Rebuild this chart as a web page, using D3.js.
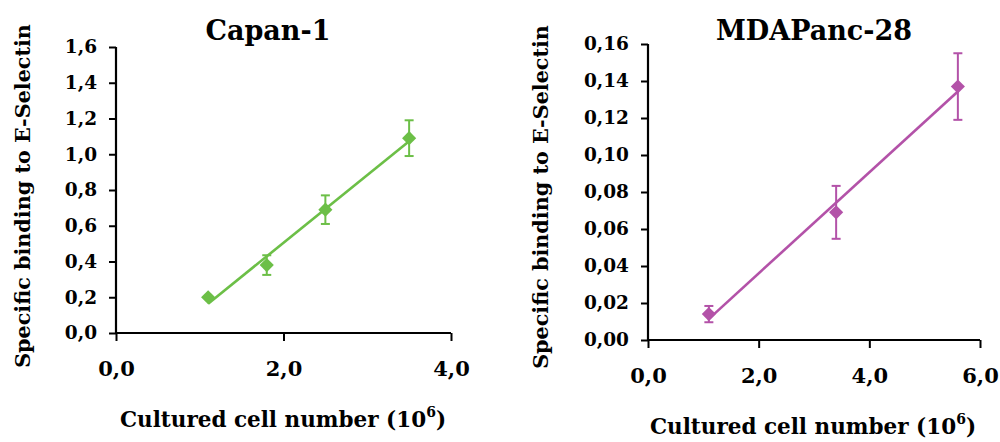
<!DOCTYPE html>
<html><head><meta charset="utf-8">
<script src="https://cdn.jsdelivr.net/npm/d3@7"></script>
<style>
body{margin:0;background:#fff;}
text{font-family:"DejaVu Serif",serif;font-weight:bold;fill:#000;}
</style></head>
<body><svg id="c" width="1000" height="442"></svg>
<script>
// Capan-1
const capanX = [1.1, 1.8, 2.5, 3.5];
const capanY = [0.20, 0.38, 0.69, 1.09];
const capanErr = [0.0, 0.055, 0.08, 0.10];
const capanYTicks = [0,0.2,0.4,0.6,0.8,1.0,1.2,1.4,1.6];
const capanXTicks = [0,2,4];
// MDAPanc-28
const mdaX = [1.1, 3.4, 5.6];
const mdaY = [0.014, 0.069, 0.137];
const mdaErr = [0.0044, 0.0143, 0.018];
const mdaYTicks = [0,0.02,0.04,0.06,0.08,0.10,0.12,0.14,0.16];
const mdaXTicks = [0,2,4,6];

const titles = ["Capan-1","MDAPanc-28"];
const yTitle = "Specific binding to E-Selectin";

const svg = d3.select("#c");

function fmt(dec){return v => v.toFixed(dec).replace(".", ",");}

function panel(o){
  const x = d3.scaleLinear().domain([0, o.xMax]).range([o.x0, o.x1]);
  const y = d3.scaleLinear().domain([0, o.yMax]).range([o.y1, o.y0]);
  const g = svg.append("g");
  const ya = g.append("g").attr("transform",`translate(${o.x0},0)`)
    .call(d3.axisLeft(y).tickValues(o.yTicks).tickFormat(fmt(o.yDec)).tickSize(7).tickPadding(12));
  const xa = g.append("g").attr("transform",`translate(0,${o.y1})`)
    .call(d3.axisBottom(x).tickValues(o.xTicks).tickFormat(fmt(1)).tickSize(8).tickPadding(o.xPad));
  [ya,xa].forEach(a=>{
    a.select(".domain").attr("stroke","#000").attr("stroke-width",2.2);
    a.selectAll(".tick line").attr("stroke","#000").attr("stroke-width",2);
    a.selectAll("text").attr("fill","#000");
  });
  ya.selectAll("text").style("font-size","18.5px");
  xa.selectAll("text").style("font-size","21px");
  ya.select(".domain").attr("d",`M0,${o.y0}V${o.y1}`);
  xa.select(".domain").attr("d",`M${o.x0},0H${o.x1}`);
  // regression trendline
  const n = o.xs.length, mx = d3.mean(o.xs), my = d3.mean(o.ys);
  let sxy=0,sxx=0;
  for(let i=0;i<n;i++){sxy+=(o.xs[i]-mx)*(o.ys[i]-my);sxx+=(o.xs[i]-mx)**2;}
  const b = sxy/sxx, a = my-b*mx;
  const xmin=d3.min(o.xs), xmax=d3.max(o.xs);
  g.append("line").attr("x1",x(xmin)).attr("y1",y(a+b*xmin)).attr("x2",x(xmax)).attr("y2",y(a+b*xmax))
    .attr("stroke",o.color).attr("stroke-width",2.6);
  // error bars
  const pts = o.xs.map((v,i)=>({x:v,y:o.ys[i],e:o.errs[i]}));
  const eb = g.selectAll(".eb").data(pts.filter(d=>d.e>0)).enter().append("g");
  eb.append("line").attr("x1",d=>x(d.x)).attr("x2",d=>x(d.x)).attr("y1",d=>y(d.y+d.e)).attr("y2",d=>y(d.y-d.e))
    .attr("stroke",o.color).attr("stroke-width",2);
  [1,-1].forEach(s=>{
    eb.append("line").attr("x1",d=>x(d.x)-4.5).attr("x2",d=>x(d.x)+4.5)
      .attr("y1",d=>y(d.y+s*d.e)).attr("y2",d=>y(d.y+s*d.e)).attr("stroke",o.color).attr("stroke-width",2);
  });
  // diamonds
  g.selectAll(".pt").data(pts).enter().append("path")
    .attr("d",d3.symbol(d3.symbolSquare, 100)())
    .attr("transform",d=>`translate(${x(d.x)},${y(d.y)}) rotate(45)`)
    .attr("fill",o.color);
  // titles
  svg.append("text").attr("x",o.tx).attr("y",o.ty).attr("text-anchor","middle").style("font-size","27px").text(o.title);
  svg.append("text").attr("transform",`translate(${o.ytx},${o.yty}) rotate(-90)`).attr("text-anchor","middle")
    .style("font-size","20.7px").text(yTitle);
  const xt = svg.append("text").attr("x",o.xtx).attr("y",o.xty).attr("text-anchor","middle").style("font-size","21.5px");
  xt.append("tspan").text("Cultured cell number (10");
  xt.append("tspan").attr("dy",-10).style("font-size","14px").text("6");
  xt.append("tspan").attr("dy",10).text(")");
}

panel({xs:capanX,ys:capanY,errs:capanErr,yTicks:capanYTicks,xTicks:capanXTicks,xMax:4,yMax:1.6,yDec:1,
  x0:116,x1:451,y0:47,y1:333,color:"#6cbf47",title:titles[0],tx:268,ty:40,ytx:30,yty:196,xtx:283,xty:427,xPad:20});
panel({xs:mdaX,ys:mdaY,errs:mdaErr,yTicks:mdaYTicks,xTicks:mdaXTicks,xMax:6,yMax:0.16,yDec:2,
  x0:648,x1:980,y0:44,y1:340,color:"#b352a8",title:titles[1],tx:814,ty:40,ytx:548,yty:197,xtx:813,xty:434,xPad:20});
</script></body></html>
